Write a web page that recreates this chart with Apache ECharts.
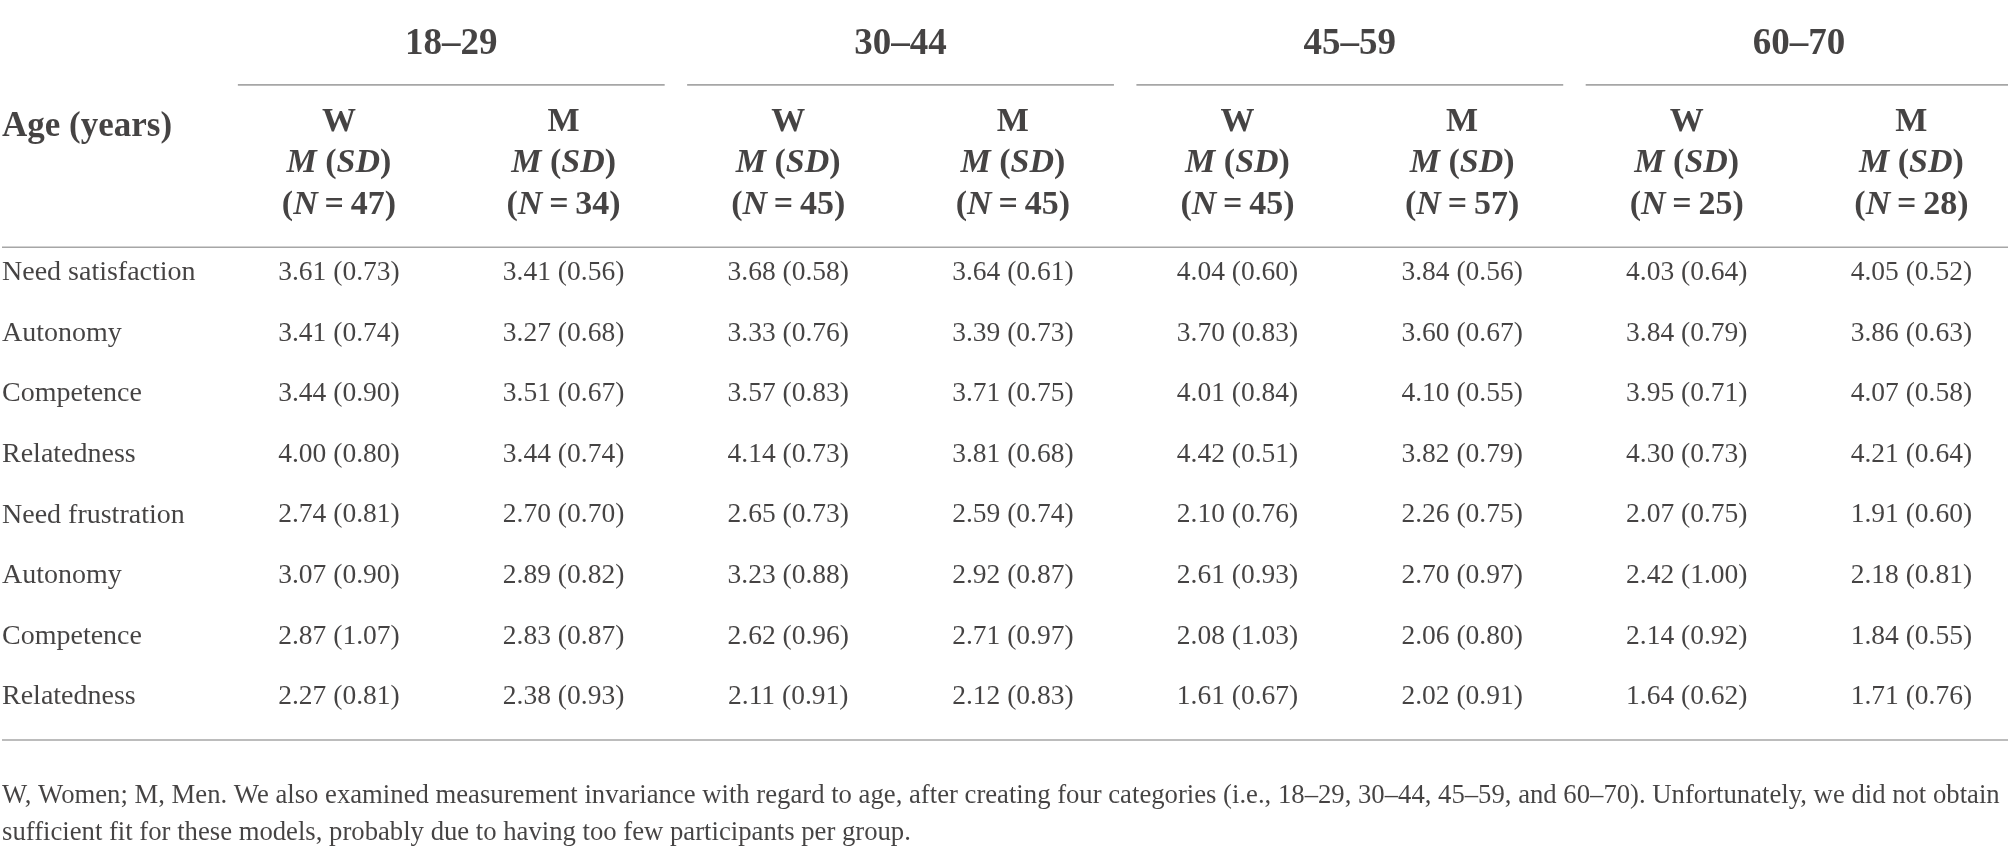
<!DOCTYPE html>
<html>
<head>
<meta charset="utf-8">
<script src="https://cdn.jsdelivr.net/npm/echarts@6/dist/echarts.min.js"></script>
<style>
	html, body { margin: 0; padding: 0; background: #ffffff; }
	#main { width: 2008px; height: 860px; }
</style>
</head>
<body>
<div id="main"></div>
<script type="text/javascript">
var ageGroups = ['18–29', '30–44', '45–59', '60–70'];
var sexes = ['W', 'M'];
var groupN = [47, 34, 45, 45, 45, 57, 25, 28];
var rowLabels = ['Need satisfaction', 'Autonomy', 'Competence', 'Relatedness',
	'Need frustration', 'Autonomy', 'Competence', 'Relatedness'];
var means = [
	[3.61, 3.41, 3.68, 3.64, 4.04, 3.84, 4.03, 4.05],
	[3.41, 3.27, 3.33, 3.39, 3.70, 3.60, 3.84, 3.86],
	[3.44, 3.51, 3.57, 3.71, 4.01, 4.10, 3.95, 4.07],
	[4.00, 3.44, 4.14, 3.81, 4.42, 3.82, 4.30, 4.21],
	[2.74, 2.70, 2.65, 2.59, 2.10, 2.26, 2.07, 1.91],
	[3.07, 2.89, 3.23, 2.92, 2.61, 2.70, 2.42, 2.18],
	[2.87, 2.83, 2.62, 2.71, 2.08, 2.06, 2.14, 1.84],
	[2.27, 2.38, 2.11, 2.12, 1.61, 2.02, 1.64, 1.71]
];
var sds = [
	[0.73, 0.56, 0.58, 0.61, 0.60, 0.56, 0.64, 0.52],
	[0.74, 0.68, 0.76, 0.73, 0.83, 0.67, 0.79, 0.63],
	[0.90, 0.67, 0.83, 0.75, 0.84, 0.55, 0.71, 0.58],
	[0.80, 0.74, 0.73, 0.68, 0.51, 0.79, 0.73, 0.64],
	[0.81, 0.70, 0.73, 0.74, 0.76, 0.75, 0.75, 0.60],
	[0.90, 0.82, 0.88, 0.87, 0.93, 0.97, 1.00, 0.81],
	[1.07, 0.87, 0.96, 0.97, 1.03, 0.80, 0.92, 0.55],
	[0.81, 0.93, 0.91, 0.83, 0.67, 0.91, 0.62, 0.76]
];
var stubHead = 'Age (years)';
var notes = [
	'W, Women; M, Men. We also examined measurement invariance with regard to age, after creating four categories (i.e., 18–29, 30–44, 45–59, and 60–70). Unfortunately, we did not obtain',
	'sufficient fit for these models, probably due to having too few participants per group.'
];

// row positions on the (inverted) y axis, in table-row units
var Y_GROUP = -3.76, Y_GROUPLINE = -3.10, Y_SEX = -2.48, Y_MSD = -1.80, Y_N = -1.12, Y_STUB = -2.41;
var Y_HEADLINE = -0.42, Y_FOOTLINE = 7.71, Y_NOTES = [8.64, 9.24];
var X_LEFT = -0.5;

var FONT = "'Liberation Serif', 'Times New Roman', serif";
var INK = '#161414';
var RULE = '#a6a6a6';
var HEAD_SIZE = 34;

var chart = echarts.init(document.getElementById('main'));

function textSeries(data, label) {
	return {
		type: 'scatter',
		symbolSize: 1,
		itemStyle: { color: 'transparent' },
		silent: true,
		data: data,
		label: Object.assign({
			show: true,
			position: 'inside',
			color: INK,
			fontFamily: FONT,
			formatter: function (p) { return p.name; }
		}, label)
	};
}

function ruleSeries(x1, x2, y) {
	return {
		type: 'line',
		symbol: 'none',
		silent: true,
		lineStyle: { color: RULE, width: 1.6 },
		data: [[x1, y], [x2, y]]
	};
}

function fmt(v) { return v.toFixed(2); }

var series = [];

// age group headers + their rules
var groupData = [];
ageGroups.forEach(function (g, k) {
	groupData.push({ name: g, value: [2 * k + 1.5, Y_GROUP] });
	series.push(ruleSeries(2 * k + 0.55, Math.min(2 * k + 2.45, 8.43), Y_GROUPLINE));
});
series.push(textSeries(groupData, { fontSize: 37, fontWeight: 'bold' }));

// sex / M (SD) / N headers
var sexData = [], msdData = [], nData = [];
groupN.forEach(function (n, c) {
	sexData.push({ name: sexes[c % 2], value: [c + 1, Y_SEX] });
	msdData.push({ name: '{i|M} (' + '{i|SD})', value: [c + 1, Y_MSD] });
	nData.push({ name: '({i|N}\u2009=\u2009' + n + ')', value: [c + 1, Y_N] });
});
var headRich = { i: { fontStyle: 'italic', fontWeight: 'bold', fontSize: HEAD_SIZE, fontFamily: FONT, color: INK } };
series.push(textSeries(sexData, { fontSize: HEAD_SIZE, fontWeight: 'bold' }));
series.push(textSeries(msdData, { fontSize: HEAD_SIZE, fontWeight: 'bold', rich: headRich }));
series.push(textSeries(nData, { fontSize: HEAD_SIZE, fontWeight: 'bold', rich: headRich }));
series.push(textSeries([{ name: stubHead, value: [X_LEFT, Y_STUB] }], { fontSize: 35, fontWeight: 'bold', align: 'left' }));

// header and bottom rules
series.push(ruleSeries(X_LEFT, 8.5, Y_HEADLINE));
series.push(ruleSeries(X_LEFT, 8.5, Y_FOOTLINE));

// row labels and cells
var labelData = [], cellData = [];
rowLabels.forEach(function (r, i) {
	labelData.push({ name: r, value: [X_LEFT, i] });
	means[i].forEach(function (m, c) {
		cellData.push({ name: fmt(m) + ' (' + fmt(sds[i][c]) + ')', value: [c + 1, i] });
	});
});
series.push(textSeries(labelData, { fontSize: 28, align: 'left' }));
series.push(textSeries(cellData, { fontSize: 27.5 }));

// footnote
series.push(textSeries(notes.map(function (t, j) {
	return { name: t, value: [X_LEFT, Y_NOTES[j]] };
}), { fontSize: 26.7, align: 'left' }));

chart.setOption({
	animation: false,
	backgroundColor: '#ffffff',
	grid: { left: 2, right: 0, top: 0, bottom: 0 },
	xAxis: { type: 'value', min: -0.5, max: 8.43, show: false },
	yAxis: { type: 'value', min: -4.5, max: 9.69, inverse: true, show: false },
	series: series
});
</script>
</body>
</html>
